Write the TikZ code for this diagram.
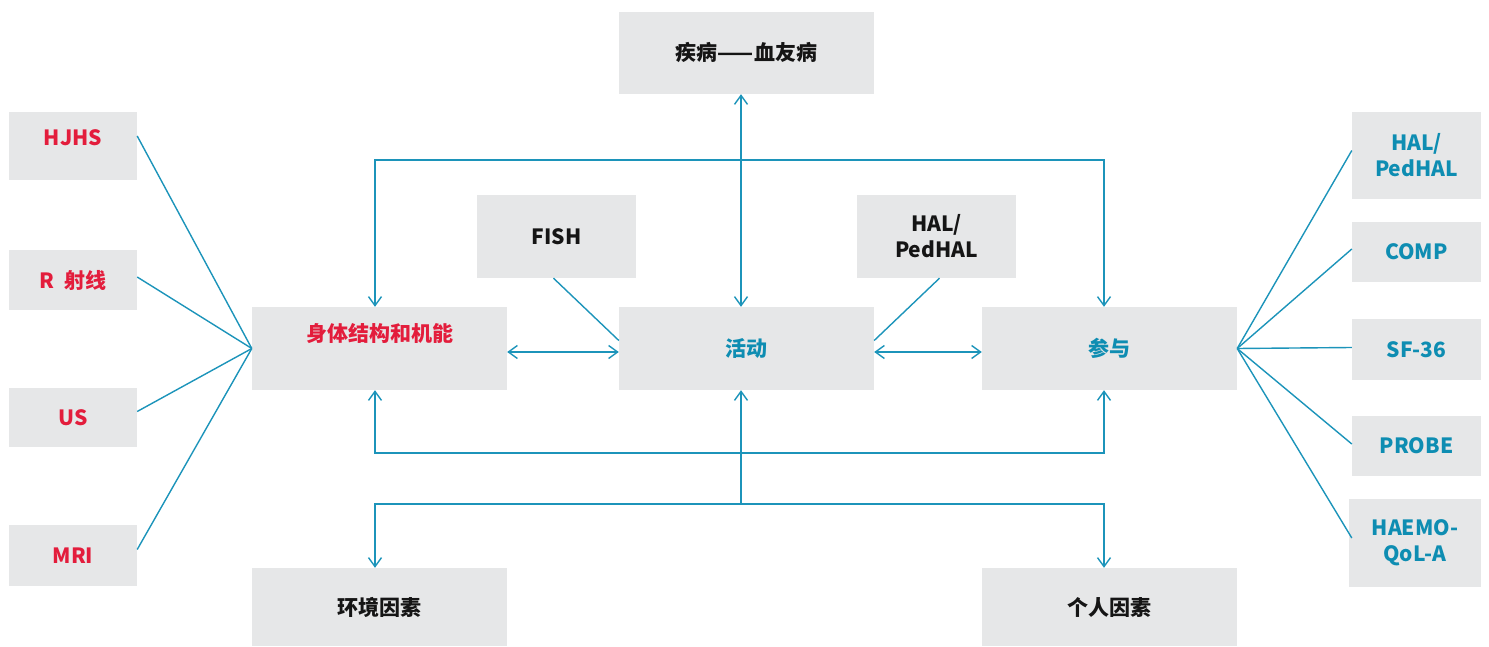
\documentclass[tikz,border=0pt]{standalone}
\usepackage{fontspec}
\setmainfont{Noto Sans CJK SC}
\usetikzlibrary{arrows.meta}
\definecolor{boxgray}{HTML}{E6E7E8}
\definecolor{linkblue}{HTML}{1C94BA}
\definecolor{txtblue}{HTML}{0E8DB2}
\definecolor{txtred}{HTML}{E31D3C}
\definecolor{txtblack}{HTML}{151515}
\tikzset{
  gbox/.style={fill=boxgray, draw=none, inner sep=0pt, align=center,
    font=\fontsize{21}{26}\selectfont\bfseries},
  redtxt/.style={text=txtred},
  bluetxt/.style={text=txtblue},
  blacktxt/.style={text=txtblack},
  link/.style={draw=linkblue, line width=1.4pt},
  tip/.style={-{Straight Barb[length=9pt,width=13pt,line width=1.4pt]}},
  dtip/.style={{Straight Barb[length=9pt,width=13pt,line width=1.4pt]}-{Straight Barb[length=9pt,width=13pt,line width=1.4pt]}}
}
\begin{document}
\begin{tikzpicture}[x=1pt,y=-1pt]
\useasboundingbox (0,0) rectangle (1489,647);
% central boxes
\node[gbox,blacktxt,minimum width=255pt,minimum height=82pt] (dis) at (746.5,53) {疾病——血友病};
\node[gbox,minimum width=255pt,minimum height=83pt,
  label={[redtxt,font=\fontsize{21}{26}\selectfont\bfseries,yshift=15pt]center:身体结构和机能}] (body) at (379.5,348.5) {};
\node[gbox,bluetxt,minimum width=255pt,minimum height=83pt] (act) at (746.5,348.5) {活动};
\node[gbox,bluetxt,minimum width=255pt,minimum height=83pt] (par) at (1109.5,348.5) {参与};
\node[gbox,blacktxt,minimum width=255pt,minimum height=78pt] (env) at (379.5,607) {环境因素};
\node[gbox,blacktxt,minimum width=255pt,minimum height=78pt] (per) at (1109.5,607) {个人因素};
\node[gbox,blacktxt,minimum width=159pt,minimum height=83pt] (fish) at (556.5,236.5) {FISH};
\node[gbox,blacktxt,minimum width=159pt,minimum height=83pt] (hal) at (936.5,236.5) {HAL/\\PedHAL};
% left column
\node[gbox,minimum width=128pt,minimum height=68pt,
  label={[redtxt,font=\fontsize{21}{26}\selectfont\bfseries,yshift=8pt]center:HJHS}] (hjhs) at (73,146) {};
\node[gbox,redtxt,minimum width=128pt,minimum height=60pt] (rray) at (73,280) {R\ \ 射线};
\node[gbox,redtxt,minimum width=128pt,minimum height=59pt] (us) at (73,417.5) {US};
\node[gbox,redtxt,minimum width=128pt,minimum height=61pt] (mri) at (73,555.5) {MRI};
% right column
\node[gbox,bluetxt,minimum width=129pt,minimum height=87pt] (hal2) at (1416.5,155.5) {HAL/\\PedHAL};
\node[gbox,bluetxt,minimum width=129pt,minimum height=60pt] (comp) at (1416.5,252) {COMP};
\node[gbox,bluetxt,minimum width=129pt,minimum height=61pt] (sf) at (1416.5,349.5) {SF-36};
\node[gbox,bluetxt,minimum width=129pt,minimum height=60pt] (probe) at (1416.5,446) {PROBE};
\node[gbox,bluetxt,minimum width=132pt,minimum height=88pt] (haemo) at (1415,543) {HAEMO-\\QoL-A};
% junction coordinates
\coordinate (tl) at (375,160);
\coordinate (tr) at (1104,160);
\coordinate (bl) at (375,453);
\coordinate (br) at (1104,453);
\coordinate (ml) at (375,504);
\coordinate (mr) at (1104,504);
\coordinate (mc) at (741,504);
% left fan
\draw[link] ([yshift=10pt]hjhs.east) -- (body.west);
\draw[link] ([yshift=3pt]rray.east) -- (body.west);
\draw[link] ([yshift=6pt]us.east) -- (body.west);
\draw[link] ([yshift=6pt]mri.east) -- (body.west);
% right fan
\draw[link] (par.east) -- ([yshift=5pt]hal2.west);
\draw[link] (par.east) -- ([yshift=3pt]comp.west);
\draw[link] (par.east) -- ([yshift=2pt]sf.west);
\draw[link] (par.east) -- ([yshift=2pt]probe.west);
\draw[link] (par.east) -- ([xshift=3pt,yshift=5pt]haemo.west);
% instruments to activity
\draw[link] ([xshift=-3pt]fish.south) -- ([yshift=8pt]act.west);
\draw[link] ([xshift=3pt]hal.south) -- ([yshift=8pt]act.east);
% horizontal double arrows
\draw[link,dtip] ([yshift=-3.5pt]body.east) -- ([yshift=-3.5pt]act.west);
\draw[link,dtip] ([yshift=-3.5pt]act.east) -- ([yshift=-3.5pt]par.west);
% disease <-> activity
\draw[link,dtip] ([xshift=-5.5pt]dis.south) -- ([xshift=-5.5pt]act.north);
% top bracket
\draw[link,dtip] ([xshift=-4.5pt]body.north) -- (tl) -- (tr) -- ([xshift=-5.5pt]par.north);
% bottom bracket
\draw[link,dtip] ([xshift=-4.5pt]body.south) -- (bl) -- (br) -- ([xshift=-5.5pt]par.south);
\draw[link,tip] (mc) -- ([xshift=-5.5pt]act.south);
\draw[link,dtip] ([xshift=-4.5pt]env.north) -- (ml) -- (mr) -- ([xshift=-5.5pt]per.north);
\end{tikzpicture}
\end{document}
